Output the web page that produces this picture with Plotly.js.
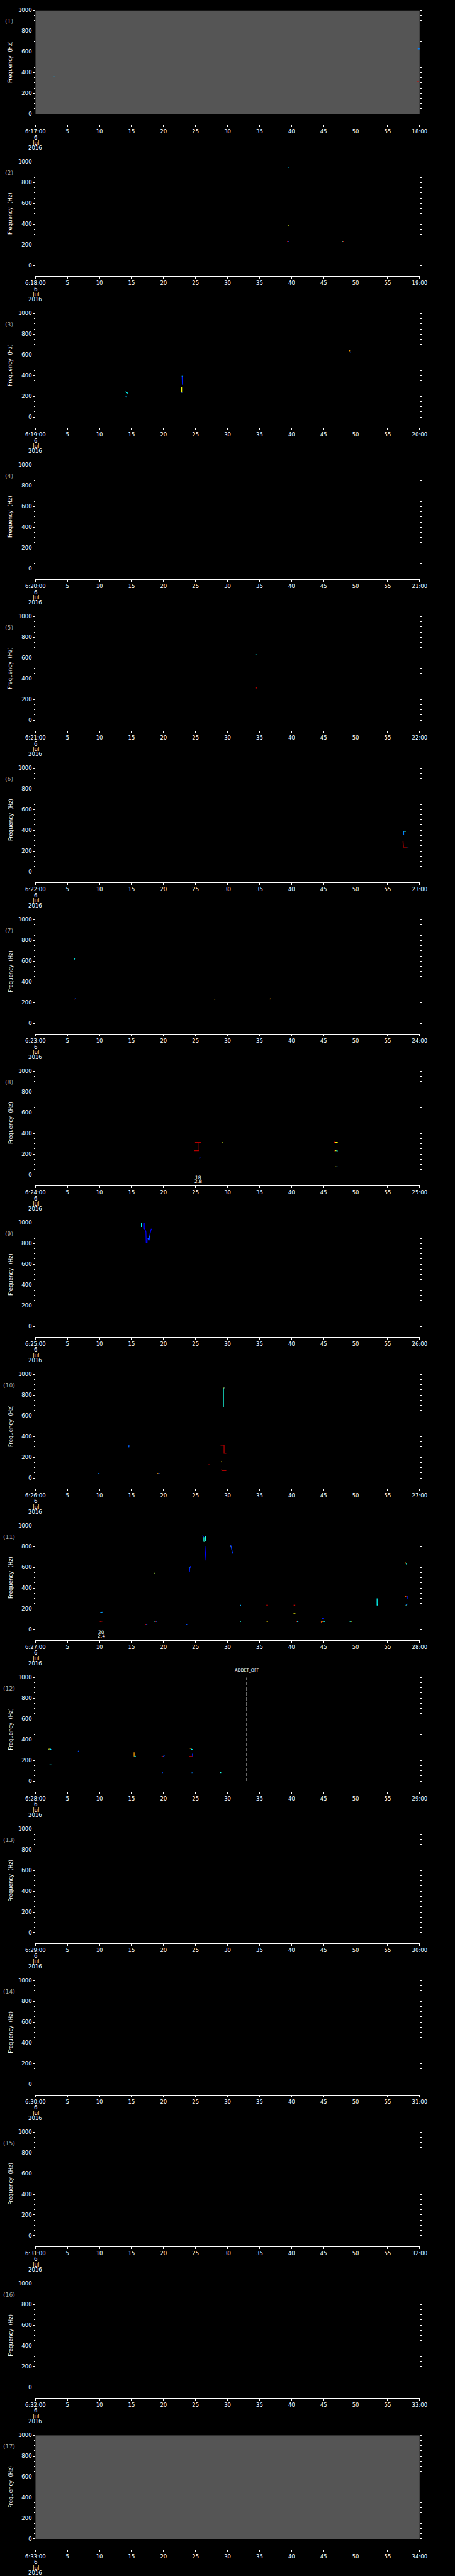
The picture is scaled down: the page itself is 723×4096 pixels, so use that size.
<!DOCTYPE html>
<html><head><meta charset="utf-8">
<script src="https://cdn.plot.ly/plotly-3.0.1.min.js"></script>
<style>html,body{margin:0;padding:0;background:#000;}#chart{width:723px;height:4096px;}</style>
</head><body><div id="chart"></div>
<script>
// ---------- tick labels ----------
const START_LABELS = ['6:17:00','6:18:00','6:19:00','6:20:00','6:21:00','6:22:00','6:23:00','6:24:00','6:25:00',
  '6:26:00','6:27:00','6:28:00','6:29:00','6:30:00','6:31:00','6:32:00','6:33:00'];
const END_LABELS = ['18:00','19:00','20:00','21:00','22:00','23:00','24:00','25:00','26:00',
  '27:00','28:00','29:00','30:00','31:00','32:00','33:00','34:00'];
const TICK_SECONDS = [0,5,10,15,20,25,30,35,40,45,50,55,60];
const MID_TICK_LABELS = ['5','10','15','20','25','30','35','40','45','50','55'];
const DATE_LINES = ['6','Jul','2016'];
const X_RANGE = [0, 60];
const Y_RANGE = [0, 1000];
const Y_TICKS = [0,200,400,600,800,1000];
const Y_TICK_LABELS = ['0','200','400','600','800','1000'];
const Y_MINOR_TICKS = [50,100,150,250,300,350,450,500,550,650,700,750,850,900,950];
const Y_TITLE = 'Frequency  (Hz)';
const FILLED_PANELS = [1, 17];

// ---------- detections: time (s after start of minute), frequency (Hz), level (0-1, jet) ----------
const P1_T = [[2.85,3.0],[59.7,60],[59.6,59.9]];
const P1_F = [[357,357],[628,628],[310,310]];
const P1_V = [0.3,0.25,0.9];

const P2_T = [[39.5,39.65],[39.45,39.65],[39.3,39.5],[39.5,39.65],[47.9,48.0],[48.0,48.1]];
const P2_F = [[950,946],[392,388],[234,234],[234,234],[234,234],[234,234]];
const P2_V = [0.33,0.6,0.9,0.2,0.4,0.85];

const P3_T = [[14.05,14.25,14.45],[14.1,14.3],[22.9,22.9,22.95],[22.85,22.92],[22.83,22.83],[22.83,22.9],[49.03,49.1],[49.1,49.23]];
const P3_F = [[244,236,229],[203,191],[395,360,312],[395,395],[287,237],[236,236],[644,636],[630,626]];
const P3_V = [0.38,0.3,0.15,0.38,0.62,0.2,0.72,0.2];

const P4_T = [], P4_F = [], P4_V = [];

const P5_T = [[34.35,34.55],[34.35,34.6]];
const P5_F = [[632,630],[311,311]];
const P5_V = [0.38,0.9];

const P6_T = [[57.5,57.5],[57.55,57.85],[57.4,57.45],[57.45,57.95],[58.1,58.25]];
const P6_F = [[390,353],[390,390],[296,240],[238,238],[238,238]];
const P6_V = [0.25,0.42,0.88,0.9,0.25];

const P7_T = [[6.05,6.1,6.2],[6.05,6.15],[6.15,6.3],[28.0,28.1],[27.95,28.0],[36.6,36.75]];
const P7_F = [[612,628,628],[234,234],[236,236],[231,236],[230,230],[233,236]];
const P7_V = [0.38,0.9,0.2,0.3,0.7,0.72];

const P8_T = [[24.92,25.88],[25.55,25.55,24.8],[25.6,25.9],[29.2,29.35],[46.6,46.8],[46.85,47.2],[46.7,46.85],[46.85,47.0],[47.0,47.2],[46.8,47.0],[47.0,47.2]];
const P8_F = [[312,312],[312,234,234],[160,164],[312,312],[315,312],[312,312],[232,232],[233,233],[233,230],[77,77],[77,77]];
const P8_V = [0.95,0.95,0.15,0.6,0.88,0.62,0.85,0.6,0.38,0.62,0.25];

const P9_T = [[16.55,16.55,16.65],[16.9,16.99,16.99,17.15,17.25,17.3,17.43,17.45,17.63,17.65,17.79,17.82,18.07,18.15],[17.62,17.7,17.8]];
const P9_F = [[960,1000,1000],[1000,1000,946,932,911,806,806,849,849,835,835,875,939,939],[850,835,872]];
const P9_V = [0.38,0.12,0.25];

const P10_T = [[29.36,29.36],[29.4,29.5],[29.5,29.6],[14.45,14.6,14.6],[28.91,29.46,29.46,29.8],[29.0,29.1],[27.0,27.2],[29.0,29.15,29.8],[9.7,10.0],[19.03,19.2],[19.2,19.4]];
const P10_F = [[869,681],[869,869],[869,869],[298,300,317],[317,317,238,238],[159,154],[126,126],[78,73,73],[45,42],[44,44],[44,44]];
const P10_V = [0.4,0.62,0.2,0.22,0.95,0.66,0.9,0.9,0.25,0.72,0.2];

const P11_T = [[10.1,10.46],[10.05,10.3,10.46],[18.5,18.6],[18.55,18.7],[18.7,18.85],[18.85,19.0],[17.19,17.3],[17.3,17.47],[23.53,23.7],
  [24.24,24.1,24.05],[24.1,24.15],[26.11,26.27],[26.3,26.3,26.45],[26.55,26.55,26.45],[26.35,26.42],[26.47,26.55,26.63],
  [30.49,30.61,30.68,30.8],[30.45,30.5],[31.93,32.1],[31.95,32.1],[36.07,36.3],[36.1,36.3],[40.33,40.57],[40.3,40.6],
  [40.73,40.85],[40.85,40.95],[40.95,41.07],[44.75,45.06],[44.6,44.7,44.9],[44.9,45.0],[45.0,45.2],[49.06,49.2],[49.2,49.37],
  [53.35,53.35,53.5],[57.74,57.85],[57.85,58.0],[57.74,57.9],[57.98,58.05,58.05],[57.85,58.1],[57.8,57.9]];
const P11_F = [[163,167],[78,78,81],[544,544],[80,80],[78,78],[78,78],[47,47],[47,47],[47,47],
  [612,590,554],[595,595],[908,891],[891,851,851],[904,855,855],[852,852],[805,737,666],
  [815,765,765,733],[800,800],[235,235],[78,78],[235,235],[78,78],[235,235],[158,158],
  [78,78],[78,78],[78,78],[107,107],[70,78,78],[78,78],[78,78],[78,78],[78,78],
  [301,237,237],[645,637],[632,632],[318,318],[318,318,298],[235,247],[232,232]];
const P11_V = [0.28,0.9,0.55,0.38,0.88,0.2,0.9,0.2,0.2,
  0.15,0.38,0.15,0.4,0.4,0.62,0.12,
  0.18,0.62,0.3,0.4,0.92,0.66,0.92,0.62,
  0.88,0.38,0.2,0.15,0.78,0.2,0.38,0.4,0.6,
  0.38,0.72,0.4,0.8,0.15,0.25,0.5];

const P12_T = [[2.08,2.3],[2.3,2.45],[2.45,2.62],[2.1,2.15],[2.2,2.5],[6.66,6.8],[15.41,15.41],[15.45,15.66],[19.71,19.95],[19.95,20.15],
  [19.75,19.9],[24.11,24.3],[24.3,24.6],[24.52,24.52],[24.02,24.5],[24.02,24.05],[24.4,24.5],[28.82,29.0]];
const P12_F = [[317,317],[310,305],[305,300],[300,310],[155,155],[292,283],[278,238],[238,241],[238,238],[238,248],
  [79,83],[317,317],[310,300],[264,239],[238,238],[232,232],[82,82],[82,82]];
const P12_V = [0.7,0.38,0.2,0.55,0.38,0.2,0.72,0.38,0.9,0.2,
  0.2,0.72,0.38,0.15,0.92,0.75,0.25,0.4];

const P13_T = [], P13_F = [], P13_V = [];
const P14_T = [], P14_F = [], P14_V = [];
const P15_T = [], P15_F = [], P15_V = [];
const P16_T = [], P16_F = [], P16_V = [];
const P17_T = [], P17_F = [], P17_V = [];

// ---------- notes & events ----------
const NOTE_PANELS = [8, 11];
const NOTE_TIMES = [25.4, 10.26];
const NOTE_UPPER = ['18', '20'];
const NOTE_LOWER = ['2.8', '2.4'];
const EVENT_PANEL = 12;
const EVENT_TIME = 33;
const EVENT_LABEL = 'ADDET_OFF';

// ---------- build ----------
const PANEL_T = [P1_T,P2_T,P3_T,P4_T,P5_T,P6_T,P7_T,P8_T,P9_T,P10_T,P11_T,P12_T,P13_T,P14_T,P15_T,P16_T,P17_T];
const PANEL_F = [P1_F,P2_F,P3_F,P4_F,P5_F,P6_F,P7_F,P8_F,P9_F,P10_F,P11_F,P12_F,P13_F,P14_F,P15_F,P16_F,P17_F];
const PANEL_V = [P1_V,P2_V,P3_V,P4_V,P5_V,P6_V,P7_V,P8_V,P9_V,P10_V,P11_V,P12_V,P13_V,P14_V,P15_V,P16_V,P17_V];

const W = 723, H = 4096, RW = 1024, RH = 5802;
const PL = 79.7, PR = 944.5, TOP0 = 23.3, PERIOD = 341.35, PH = 233.4, GAP = 23.7;
const fx = x => x / RW;
const fy = y => 1 - y / RH;
const FONT = 'DejaVu Sans';
function jet(v){
  const c = t => Math.round(255 * Math.max(0, Math.min(1, t)));
  return 'rgb(' + c(1.5 - Math.abs(4*v - 3)) + ',' + c(1.5 - Math.abs(4*v - 2)) + ',' + c(1.5 - Math.abs(4*v - 1)) + ')';
}

const traces = [], shapes = [], annotations = [];
const layout = {
  width: W, height: H, margin: {l:0, r:0, t:0, b:0},
  paper_bgcolor: '#000', plot_bgcolor: '#000', showlegend: false,
  font: {family: FONT, color: '#fff', size: 8.5}
};

function yAxisBase(top, bot, xa) {
  return {
    domain: [fy(bot), fy(top)], range: Y_RANGE, anchor: xa,
    tickmode: 'array', tickvals: Y_TICKS, ticktext: Y_TICK_LABELS,
    ticks: 'outside', ticklen: 3, tickwidth: 1, tickcolor: '#fff',
    minor: {tickmode: 'array', tickvals: Y_MINOR_TICKS, ticks: 'outside', ticklen: 1.7, tickwidth: 1, tickcolor: '#fff'},
    showline: true, linecolor: '#fff', linewidth: 1, showgrid: false, zeroline: false,
    tickfont: {family: FONT, size: 8.5, color: '#fff'}, fixedrange: true
  };
}

for (let i = 1; i <= 17; i++) {
  const top = TOP0 + (i - 1) * PERIOD, bot = top + PH, line = bot + GAP;
  const xs = i === 1 ? '' : String(i);
  const xa = 'x' + xs, ya = 'y' + xs, yr = 'y' + (17 + i);
  layout['xaxis' + xs] = {
    domain: [fx(PL), fx(PR)], range: X_RANGE, anchor: 'free', position: fy(line),
    tickmode: 'array', tickvals: TICK_SECONDS,
    ticktext: [START_LABELS[i-1]].concat(MID_TICK_LABELS, [END_LABELS[i-1]]),
    ticks: 'outside', ticklen: 3, tickwidth: 1, tickcolor: '#fff',
    showline: true, linecolor: '#fff', linewidth: 1, showgrid: false, zeroline: false,
    tickfont: {family: FONT, size: 8.5, color: '#fff'}, fixedrange: true
  };
  layout['yaxis' + xs] = yAxisBase(top, bot, xa);
  const right = yAxisBase(top, bot, xa);
  right.overlaying = ya; right.side = 'right'; right.showticklabels = false;
  layout['yaxis' + (17 + i)] = right;

  // placeholder traces so that every subplot (left and right axes) is drawn
  traces.push({type: 'scatter', mode: 'lines', x: [null], y: [null], xaxis: xa, yaxis: ya, hoverinfo: 'skip', showlegend: false});
  traces.push({type: 'scatter', mode: 'lines', x: [null], y: [null], xaxis: xa, yaxis: yr, hoverinfo: 'skip', showlegend: false});

  if (FILLED_PANELS.includes(i)) {
    shapes.push({type: 'rect', xref: xa, yref: ya, x0: X_RANGE[0], x1: X_RANGE[1], y0: Y_RANGE[0], y1: Y_RANGE[1],
      fillcolor: '#555555', line: {width: 0}, layer: 'below'});
  }
  const T = PANEL_T[i-1], F = PANEL_F[i-1], V = PANEL_V[i-1];
  for (let k = 0; k < T.length; k++) {
    traces.push({type: 'scatter', mode: 'lines', x: T[k], y: F[k], xaxis: xa, yaxis: ya,
      line: {color: jet(V[k]), width: 1.3}, hoverinfo: 'skip', showlegend: false});
  }
  annotations.push({text: '(' + i + ')', xref: 'paper', yref: 'paper', x: fx(21), y: fy(top + 24.4),
    xanchor: 'center', yanchor: 'middle', showarrow: false, font: {family: FONT, size: 9.2, color: '#a8a8a8'}});
  annotations.push({text: Y_TITLE, xref: 'paper', yref: 'paper', x: fx(23), y: fy(top + PH/2), textangle: -90,
    xanchor: 'center', yanchor: 'middle', showarrow: false, font: {family: FONT, size: 8.5, color: '#fff'}});
  const offs = [29.3, 41, 52.6];
  DATE_LINES.forEach((d, j) => annotations.push({text: d, xref: xa, yref: 'paper', x: X_RANGE[0], y: fy(line + offs[j]),
    xanchor: 'center', yanchor: 'middle', showarrow: false, font: {family: FONT, size: 8.5, color: '#fff'}}));
}

NOTE_PANELS.forEach((p, j) => {
  const bot = TOP0 + (p - 1) * PERIOD + PH;
  const xa = 'x' + p;
  annotations.push({text: NOTE_UPPER[j], xref: xa, yref: 'paper', x: NOTE_TIMES[j], y: fy(bot + 6.3),
    xanchor: 'center', yanchor: 'middle', showarrow: false, font: {family: FONT, size: 7.5, color: '#fff'}});
  annotations.push({text: NOTE_LOWER[j], xref: xa, yref: 'paper', x: NOTE_TIMES[j], y: fy(bot + 15.3),
    xanchor: 'center', yanchor: 'middle', showarrow: false, font: {family: FONT, size: 7.5, color: '#fff'}});
});

{
  const top = TOP0 + (EVENT_PANEL - 1) * PERIOD;
  shapes.push({type: 'line', xref: 'x' + EVENT_PANEL, yref: 'y' + EVENT_PANEL, x0: EVENT_TIME, x1: EVENT_TIME, y0: Y_RANGE[0], y1: Y_RANGE[1],
    line: {color: '#fff', width: 1, dash: '5px,3px'}});
  annotations.push({text: EVENT_LABEL, xref: 'x' + EVENT_PANEL, yref: 'paper', x: EVENT_TIME, y: fy(top - 16.5),
    xanchor: 'center', yanchor: 'middle', showarrow: false, font: {family: FONT, size: 6.5, color: '#fff'}});
}

layout.shapes = shapes;
layout.annotations = annotations;
Plotly.newPlot('chart', traces, layout, {staticPlot: true, displayModeBar: false});
</script>
</body></html>
